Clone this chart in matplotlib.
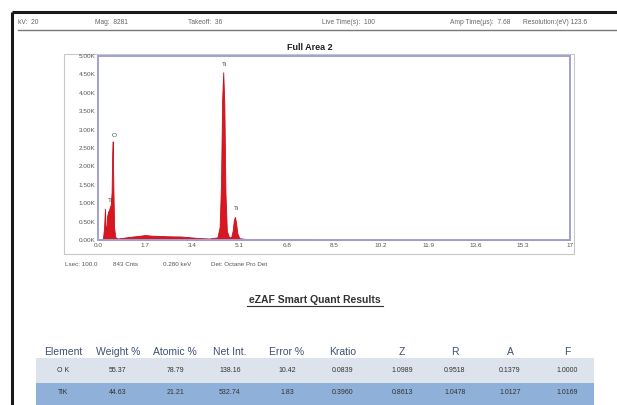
import numpy as np
import matplotlib.pyplot as plt
from matplotlib.patches import Rectangle

plt.rcParams['font.family'] = ['Liberation Sans', 'DejaVu Sans']

# acquisition header
header_items = ['kV:  20', 'Mag:  8281', 'Takeoff:  36', 'Live Time(s):  100',
                'Amp Time(\u03bcs):  7.68', 'Resolution:(eV) 123.6']
header_x = [18, 95, 188, 322, 450, 523]

# spectrum (keV, counts)
energy = [0.0, 0.12, 0.18, 0.22, 0.25, 0.27, 0.30, 0.33, 0.36, 0.40, 0.43, 0.46,
          0.49, 0.51, 0.53, 0.55, 0.58, 0.62, 0.70, 0.90, 1.20, 1.50, 1.70, 1.90,
          2.20, 2.60, 3.00, 3.30, 3.60, 4.00, 4.30, 4.38, 4.43, 4.47, 4.51, 4.55,
          4.59, 4.64, 4.72, 4.80, 4.85, 4.89, 4.93, 4.97, 5.02, 5.09, 5.30, 6.00,
          7.00, 8.00, 9.00, 10.0, 11.0, 12.0, 17.0]
counts = [0, 0, 40, 350, 850, 420, 200, 650, 760, 820, 900, 960,
          1300, 2300, 2680, 1600, 350, 80, 40, 60, 90, 115, 135, 120,
          110, 100, 95, 75, 55, 40, 70, 350, 1500, 3800, 4560, 3700,
          1300, 250, 70, 80, 250, 520, 630, 480, 180, 50, 30, 22,
          16, 12, 9, 6, 3, 0, 0]

peak_labels = ['O', 'Ti', 'Ti', 'Ti']
peak_x = [0.58, 0.46, 4.55, 5.00]
peak_y = [2850, 1080, 4760, 860]

x_ticks = [0.0, 1.7, 3.4, 5.1, 6.8, 8.5, 10.2, 11.9, 13.6, 15.3, 17.0]
x_tick_labels = ['0.0', '1.7', '3.4', '5.1', '6.8', '8.5', '10.2', '11.9', '13.6', '15.3', '17']
y_ticks = [0, 500, 1000, 1500, 2000, 2500, 3000, 3500, 4000, 4500, 5000]
y_tick_labels = ['0.00K', '0.50K', '1.00K', '1.50K', '2.00K', '2.50K', '3.00K',
                 '3.50K', '4.00K', '4.50K', '5.00K']

footer_items = ['Lsec: 100.0', '843 Cnts', '0.280 keV', 'Det: Octane Pro Det']
footer_x = [65, 113, 163, 211]

# quant table
columns = ['Element', 'Weight %', 'Atomic %', 'Net Int.', 'Error %', 'Kratio', 'Z', 'R', 'A', 'F']
rows = [['O K', '55.37', '78.79', '138.16', '10.42', '0.0839', '1.0989', '0.9518', '0.1379', '1.0000'],
        ['TiK', '44.63', '21.21', '532.74', '1.83', '0.3960', '0.8613', '1.0478', '1.0127', '1.0169']]
col_x = [63, 118, 175, 230, 287, 343, 402, 455, 510, 567]

W, H = 617, 405
fig = plt.figure(figsize=(W / 100, H / 100), dpi=100)

# overlay in pixel coordinates
ov = fig.add_axes([0, 0, 1, 1])
ov.set_xlim(0, W)
ov.set_ylim(H, 0)
ov.axis('off')

# black frame
ov.plot([12, W], [12, 12], color='#1a1a1a', lw=2.2, solid_capstyle='butt')
ov.plot([12, 12], [12, H], color='#1a1a1a', lw=2.2, solid_capstyle='butt')
ov.plot([18, W], [30, 30], color='#777777', lw=1.0)
for t, x in zip(header_items, header_x):
    ov.text(x, 23, t, fontsize=4.8, color='#666666', va='center', ha='left')

ov.text(310, 47, 'Full Area 2', fontsize=6.5, fontweight='bold', color='#222222',
        ha='center', va='center')

# outer box around spectrum
ov.add_patch(Rectangle((64, 54), 510, 200, fill=False, ec='#c8c8c8', lw=0.8))

for t, x in zip(footer_items, footer_x):
    ov.text(x, 264, t, fontsize=4.5, color='#555555', va='center', ha='left')

ov.text(315, 300, 'eZAF Smart Quant Results', fontsize=7.5, fontweight='bold',
        color='#333333', ha='center', va='center')
ov.plot([247, 383], [306, 306], color='#333333', lw=0.8)

# table
ov.add_patch(Rectangle((36, 358), 558, 24.5, fc='#dce3ec', ec='none'))
ov.add_patch(Rectangle((36, 383), 558, 22, fc='#8fb0d8', ec='none'))
for c, x in zip(columns, col_x):
    ov.text(x, 352, c, fontsize=7.5, color='#3e4f78', ha='center', va='center')
for r, y in zip(rows, [370, 393]):
    for v, x in zip(r, col_x):
        ov.text(x, y, v, fontsize=5, color='#333333', ha='center', va='center')

# spectrum axes
ax = fig.add_axes([98 / W, 1 - 240 / H, (570 - 98) / W, (240 - 56) / H])
ax.fill_between(energy, counts, 0, color='#d81820', lw=0.6, ec='#c8101a')
ax.set_xlim(0, 17)
ax.set_ylim(0, 5000)
ax.set_xticks(x_ticks)
ax.set_xticklabels(x_tick_labels)
ax.set_yticks(y_ticks)
ax.set_yticklabels(y_tick_labels)
ax.tick_params(length=0, labelsize=4.6, labelcolor='#555555', pad=2)
for s in ax.spines.values():
    s.set_color('#a0a0d4')
    s.set_linewidth(1.4)
for t, x, y in zip(peak_labels, peak_x, peak_y):
    ax.text(x, y, t, fontsize=4.6, color='#444444', ha='center', va='center')

fig.savefig('out.png', dpi=100)
